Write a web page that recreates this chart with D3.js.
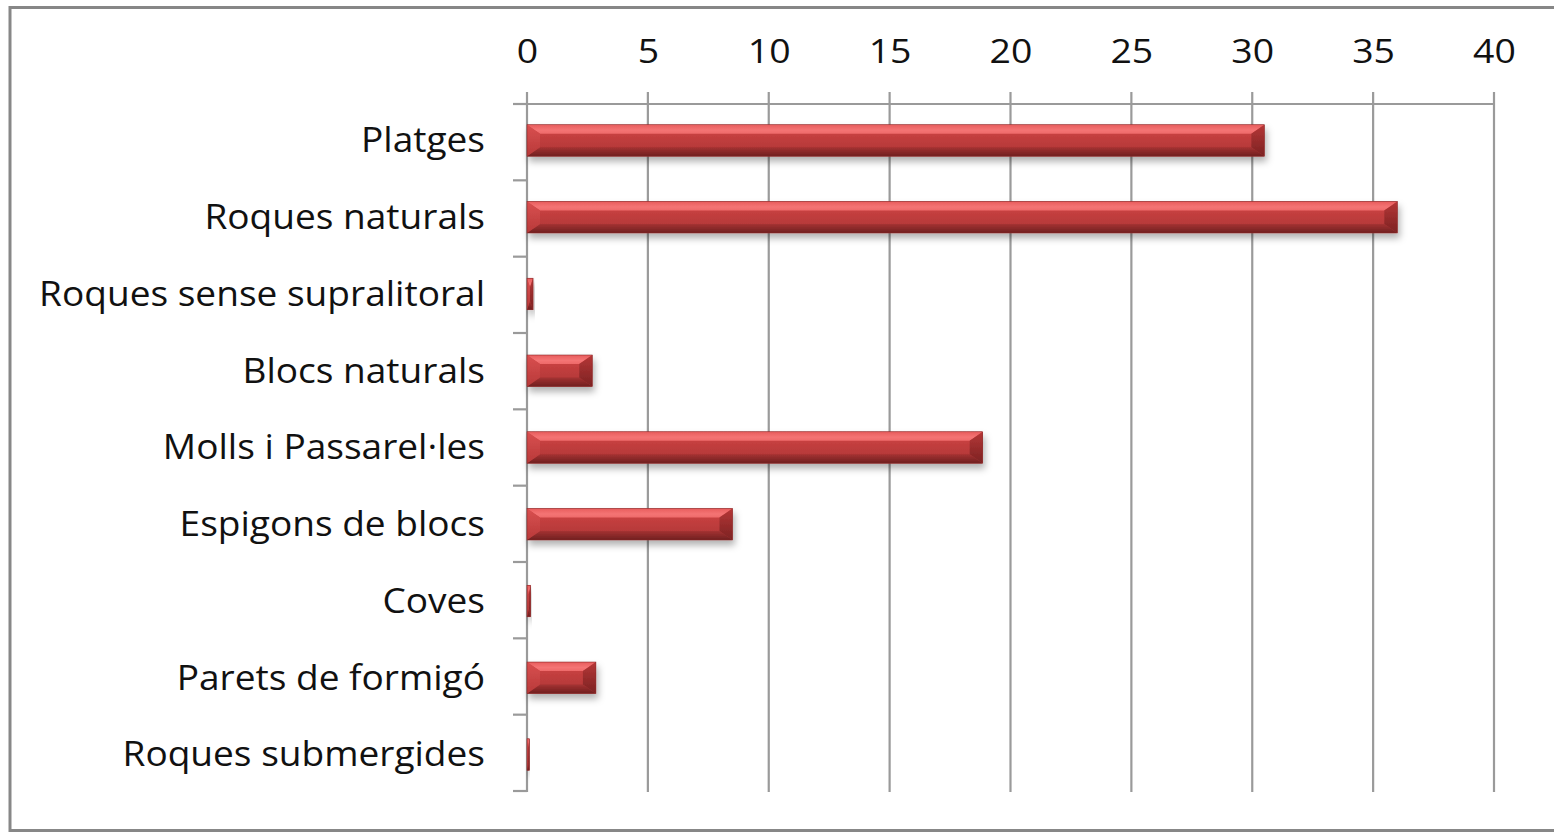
<!DOCTYPE html>
<html>
<head>
<meta charset="utf-8">
<script src="https://cdn.jsdelivr.net/npm/d3@7"></script>
<style>
  body { margin:0; background:#fff; }
  svg text { font-family: "Open Sans", "Noto Sans", sans-serif; fill:#111; }
</style>
</head>
<body>
<div id="chart"></div>
<script>
// categories top to bottom
var categories = ["Platges","Roques naturals","Roques sense supralitoral","Blocs naturals","Molls i Passarel·les","Espigons de blocs","Coves","Parets de formigó","Roques submergides"];
var values = [30.5, 36.0, 0.25, 2.7, 18.85, 8.5, 0.15, 2.85, 0.1];
var xTicks = [0,5,10,15,20,25,30,35,40];

var W = 1554, H = 832;
var margin = {top: 104, right: 60, bottom: 41, left: 527},
    width = 1494 - margin.left,
    height = 791 - margin.top;

var svg = d3.select("#chart").append("svg")
  .attr("width", W).attr("height", H);

// outer frame
svg.append("rect")
  .attr("x", 10).attr("y", 7.5).attr("width", W + 20).attr("height", 823)
  .attr("fill", "none").attr("stroke", "#878787").attr("stroke-width", 3);

var defs = svg.append("defs");
var f = defs.append("filter").attr("id","shadow").attr("x","-10%").attr("y","-30%").attr("width","130%").attr("height","200%");
f.append("feDropShadow").attr("dx",2).attr("dy",5).attr("stdDeviation",3.5).attr("flood-color","#000").attr("flood-opacity",0.3);

function grad(id, stops){
  var g = defs.append("linearGradient").attr("id", id).attr("x1",0).attr("y1",0).attr("x2",0).attr("y2",1);
  stops.forEach(function(s){ g.append("stop").attr("offset", s[0]).attr("stop-color", s[1]); });
}
grad("gTop", [[0,"#e85d5d"],[0.6,"#f47474"],[1,"#ee6a6a"]]);
grad("gFace", [[0,"#d44a4a"],[0.4,"#c23e3e"],[1,"#ad3535"]]);
grad("gBot", [[0,"#a43232"],[1,"#702020"]]);
grad("gLeft", [[0,"#d95050"],[1,"#b83939"]]);
grad("gRight", [[0,"#b53636"],[1,"#7c2323"]]);

var g = svg.append("g").attr("transform", "translate(" + margin.left + "," + margin.top + ")");

var x = d3.scaleLinear().domain([0, 40]).range([0, width]);
var y = d3.scaleBand().domain(categories).range([0, height]).paddingInner(0.59).paddingOuter(0.27);

// vertical gridlines
g.selectAll(".grid").data(xTicks).enter().append("line")
  .attr("class","grid")
  .attr("x1", function(d){ return x(d); }).attr("x2", function(d){ return x(d); })
  .attr("y1", -12).attr("y2", height + 1)
  .attr("stroke", "#9a9a9a").attr("stroke-width", 2.2);

// top axis
var xAxis = d3.axisTop(x).tickValues(xTicks).tickSize(12).tickPadding(29);
var ax = g.append("g").call(xAxis);
ax.select(".domain").attr("stroke", "#9a9a9a").attr("stroke-width", 2.2).attr("d", "M0,0H" + width);
ax.selectAll(".tick line").remove();
ax.selectAll(".tick text").style("font-size", "32px").attr("fill", "#111")
  .attr("transform", "scale(1.17,1)");

// category ticks on y axis
var bounds = d3.range(categories.length + 1).map(function(i){ return i * height / categories.length; });
g.selectAll(".ytick").data(bounds).enter().append("line")
  .attr("class","ytick")
  .attr("x1", -14).attr("x2", 0)
  .attr("y1", function(d){ return d; }).attr("y2", function(d){ return d; })
  .attr("stroke", "#9a9a9a").attr("stroke-width", 2.2);

// labels (stretched a bit wider like the original)
g.selectAll(".lab").data(categories).enter().append("text")
  .attr("class","lab")
  .attr("transform", function(d){ return "translate(-42," + (y(d) + y.bandwidth()/2) + ") scale(1.09,1)"; })
  .attr("dy", "0.35em")
  .attr("text-anchor", "end")
  .style("font-size", "34px")
  .text(function(d){ return d; });

// bars with bevel
var bars = g.selectAll(".bar").data(values).enter().append("g")
  .attr("class","bar")
  .attr("filter","url(#shadow)")
  .attr("transform", function(d,i){ return "translate(0," + y(categories[i]) + ")"; });

var bh = y.bandwidth();
bars.each(function(v){
  var sel = d3.select(this);
  var w = x(v) - x(0);
  var b = Math.min(13, w/2), bt = 9;
  sel.append("rect").attr("width", w).attr("height", bh).attr("fill", "url(#gFace)");
  // top bevel
  sel.append("polygon").attr("points", [[0,0],[w,0],[w-b,bt],[b,bt]].join(" ")).attr("fill","url(#gTop)");
  // bottom bevel
  sel.append("polygon").attr("points", [[0,bh],[w,bh],[w-b,bh-bt],[b,bh-bt]].join(" ")).attr("fill","url(#gBot)");
  // left / right bevels
  sel.append("polygon").attr("points", [[0,0],[b,bt],[b,bh-bt],[0,bh]].join(" ")).attr("fill","url(#gLeft)");
  sel.append("polygon").attr("points", [[w,0],[w-b,bt],[w-b,bh-bt],[w,bh]].join(" ")).attr("fill","url(#gRight)");
  sel.append("rect").attr("width", w).attr("height", bh).attr("fill","none").attr("stroke","#8a2a2a").attr("stroke-width",0.6);
});
</script>
</body>
</html>
